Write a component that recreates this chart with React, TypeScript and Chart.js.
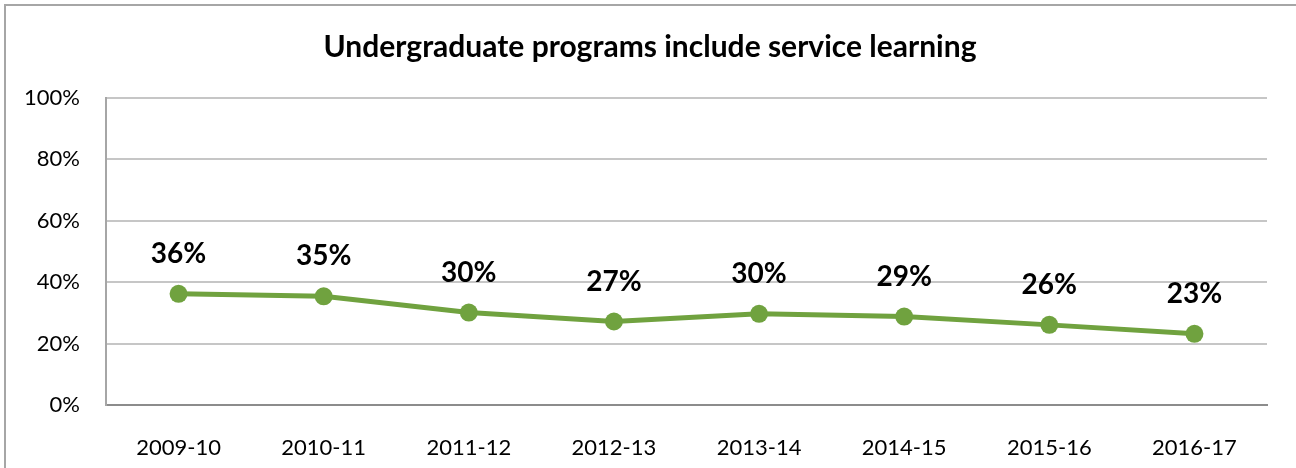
import React, { useEffect, useRef } from "react";
import { Chart, registerables } from "chart.js";

Chart.register(...registerables);

const chartTitle = "Undergraduate programs include service learning";
const categories = ["2009-10", "2010-11", "2011-12", "2012-13", "2013-14", "2014-15", "2015-16", "2016-17"];
const shareValues = [36.2, 35.4, 30.1, 27.2, 29.7, 28.8, 26.1, 23.2];
const yTickValues = [0, 20, 40, 60, 80, 100];

const FONT = "Lato, 'Open Sans', 'DejaVu Sans', sans-serif";
const GREEN = "#70A23F";

export default function App() {
  const ref = useRef<HTMLCanvasElement | null>(null);

  useEffect(() => {
    document.body.style.margin = "0";
    document.body.style.overflow = "hidden";
    const canvas = ref.current;
    if (!canvas) return;

    const borderPlugin = {
      id: "outerBorder",
      beforeDraw(chart: any) {
        const ctx = chart.ctx;
        ctx.save();
        ctx.fillStyle = "#ffffff";
        ctx.fillRect(0, 0, chart.width, chart.height);
        ctx.strokeStyle = "#A6A6A6";
        ctx.lineWidth = 2;
        ctx.strokeRect(5, 5, chart.width + 100, chart.height + 100);
        ctx.font = `bold 30px ${FONT}`;
        ctx.fillStyle = "#000000";
        ctx.textAlign = "center";
        ctx.textBaseline = "middle";
        ctx.fillText(chartTitle, 650, 47);
        ctx.restore();
      },
    };

    const labelPlugin = {
      id: "pointLabels",
      afterDatasetsDraw(chart: any) {
        const ctx = chart.ctx;
        const meta = chart.getDatasetMeta(0);
        ctx.save();
        ctx.font = `bold 28px ${FONT}`;
        ctx.fillStyle = "#000000";
        ctx.textAlign = "center";
        ctx.textBaseline = "middle";
        meta.data.forEach((pt: any, i: number) => {
          ctx.fillText(Math.round(shareValues[i]) + "%", pt.x, pt.y - 40);
        });
        ctx.restore();
      },
    };

    const chart = new Chart(canvas, {
      type: "line",
      data: {
        labels: categories,
        datasets: [
          {
            data: shareValues,
            borderColor: GREEN,
            backgroundColor: GREEN,
            borderWidth: 5,
            pointRadius: 9,
            pointHoverRadius: 9,
            pointBackgroundColor: GREEN,
            pointBorderColor: GREEN,
            pointBorderWidth: 0,
            tension: 0,
          },
        ],
      },
      plugins: [borderPlugin, labelPlugin],
      options: {
        animation: false,
        responsive: false,
        maintainAspectRatio: false,
        layout: { padding: { left: 6, right: 29, top: 98, bottom: 0 } },
        plugins: {
          legend: { display: false },
          tooltip: { enabled: false },
          title: { display: false },
        },
        scales: {
          x: {
            type: "category",
            offset: true,
            grid: { display: false },
            border: { display: true, color: "#8C8C8C", width: 2 },
            ticks: {
              color: "#000000",
              font: { family: FONT, size: 22 },
              padding: 22,
              maxRotation: 0,
            },
            afterFit(scale: any) {
              scale.height = 63;
            },
          },
          y: {
            min: 0,
            max: 100,
            afterBuildTicks(scale: any) {
              scale.ticks = yTickValues.map((v) => ({ value: v }));
            },
            grid: {
              color: (c: any) => (c.tick && c.tick.value === 0 ? "#8C8C8C" : "#C6C6C6"),
              lineWidth: 2,
              drawTicks: false,
            },
            border: { display: true, color: "#A6A6A6", width: 2 },
            ticks: {
              color: "#000000",
              font: { family: FONT, size: 22 },
              padding: 26,
              callback: (v: any) => v + "%",
            },
            afterFit(scale: any) {
              scale.width = 100;
            },
          },
        },
      },
    } as any);

    return () => chart.destroy();
  }, []);

  return (
    <div style={{ position: "absolute", left: 0, top: 0, width: 1296, height: 468 }}>
      <canvas ref={ref} width={1296} height={468} style={{ display: "block", width: 1296, height: 468 }} />
    </div>
  );
}
